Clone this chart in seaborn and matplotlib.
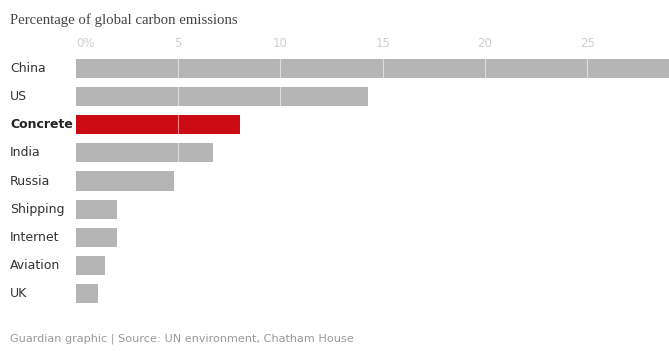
import matplotlib
matplotlib.use("Agg")
import matplotlib.pyplot as plt
import seaborn as sns
import pandas as pd

categories = ["China", "US", "Concrete", "India", "Russia", "Shipping", "Internet", "Aviation", "UK"]
values = [29.0, 14.3, 8.0, 6.7, 4.8, 2.0, 2.0, 1.4, 1.1]
highlight = "Concrete"
tick_values = [0, 5, 10, 15, 20, 25]
tick_labels = ["0%", "5", "10", "15", "20", "25"]

GREY = "#b5b5b5"
RED = "#cc0a13"

df = pd.DataFrame({"category": categories, "value": values})
palette = {c: (RED if c == highlight else GREY) for c in categories}

sns.set_style("white")
fig = plt.figure(figsize=(6.69, 3.51), dpi=100)
ax = fig.add_axes([76 / 669, 1 - 308 / 351, 1 - 76 / 669, (308 - 54) / 351])

sns.barplot(data=df, y="category", x="value", hue="category", palette=palette,
            order=categories, orient="h", width=0.68, legend=False, ax=ax,
            saturation=1, linewidth=0, zorder=2)

ax.set_xlim(0, 29.0)
ax.set_xlabel("")
ax.set_ylabel("")
for s in ax.spines.values():
    s.set_visible(False)

for t in tick_values[1:]:
    ax.axvline(t, color="white", lw=0.8, alpha=0.55, zorder=3)

ax.xaxis.tick_top()
ax.set_xticks(tick_values)
ax.set_xticklabels(tick_labels, fontsize=8.5, color="#cfcfcf", family="DejaVu Sans")
ax.tick_params(axis="x", length=0, pad=3)
ax.get_xticklabels()[0].set_horizontalalignment("left")

ax.set_yticks(range(len(categories)))
ax.set_yticklabels([])
ax.tick_params(axis="y", length=0)
for i, c in enumerate(categories):
    y_disp = ax.transData.transform((0, i))[1]
    y_fig = fig.transFigure.inverted().transform((0, y_disp))[1]
    fig.text(10 / 669, y_fig, c, ha="left", va="center", fontsize=9,
             color="#222222" if c == highlight else "#333333",
             fontweight="bold" if c == highlight else "normal", family="DejaVu Sans")

fig.text(10 / 669, 1 - 20 / 351, "Percentage of global carbon emissions", ha="left", va="center",
         fontsize=10.6, color="#444444", family="Liberation Serif")
fig.text(10 / 669, 1 - 339 / 351, "Guardian graphic | Source: UN environment, Chatham House",
         ha="left", va="center", fontsize=8.1, color="#999999", family="DejaVu Sans")

fig.savefig("out.png", dpi=100)
